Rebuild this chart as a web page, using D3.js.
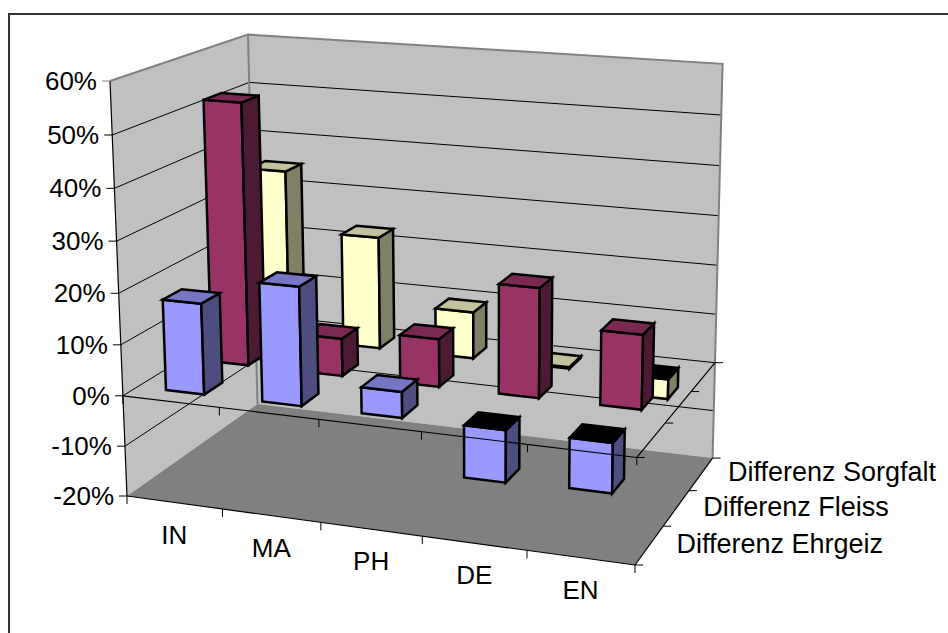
<!DOCTYPE html>
<html>
<head>
<meta charset="utf-8">
<script src="https://cdn.jsdelivr.net/npm/d3@7"></script>
<style>
  html, body { margin: 0; padding: 0; background: #fff; overflow: hidden; }
  text { font-family: "Liberation Sans", Arial, sans-serif; font-size: 26px; fill: #000; }
  text.series { font-size: 27px; }
</style>
</head>
<body>
<div id="chart"></div>
<script>
// Chart data
var categories = ["IN", "MA", "PH", "DE", "EN"];
var seriesNames = ["Differenz Ehrgeiz", "Differenz Fleiss", "Differenz Sorgfalt"];
var ehrgeiz = [0.178, 0.23, 0.05, -0.10, -0.095];
var fleiss = [0.525, 0.075, 0.095, 0.215, 0.145];
var sorgfalt = [0.35, 0.23, 0.095, 0.003, -0.04];
var valueTicks = [-0.2, -0.1, 0, 0.1, 0.2, 0.3, 0.4, 0.5, 0.6];
var seriesValues = [ehrgeiz, fleiss, sorgfalt];

var svgWidth = 948;
var svgHeight = 633;

var svg = d3.select("#chart").append("svg")
  .attr("width", svgWidth)
  .attr("height", svgHeight)
  .style("display", "block");

// Scales into the unit box: u along categories, v up, w into the screen
var uScale = d3.scaleBand().domain(categories).range([0, 1]).paddingInner(0.6).paddingOuter(0.3);
var vScale = d3.scaleLinear().domain([-0.2, 0.6]).range([0, 1]);
var wScale = d3.scaleBand().domain(seriesNames).range([0, 1]).paddingInner(0.6).paddingOuter(0.3);

// Perspective camera, set from the box corners
var origin = [127, 496];
var cornerU = [635, 565];
var cornerV = [110, 81];
var cornerW = [257.5, 404];
var persp = { u: -0.0744, v: -0.045, w: 0.129 };

function project(u, v, w) {
  var d = 1 + persp.u * u + persp.v * v + persp.w * w;
  return [0, 1].map(function(i) {
    return (origin[i]
      + (cornerU[i] * (1 + persp.u) - origin[i]) * u
      + (cornerV[i] * (1 + persp.v) - origin[i]) * v
      + (cornerW[i] * (1 + persp.w) - origin[i]) * w) / d;
  });
}

function poly(points, fill, stroke, strokeWidth) {
  return svg.append("polygon")
    .attr("points", points.map(function(p) { return p.join(","); }).join(" "))
    .attr("fill", fill)
    .attr("stroke", stroke || "none")
    .attr("stroke-width", strokeWidth || 0)
    .attr("stroke-linejoin", "miter");
}

function line(a, b, color, width) {
  return svg.append("line")
    .attr("x1", a[0]).attr("y1", a[1])
    .attr("x2", b[0]).attr("y2", b[1])
    .attr("stroke", color)
    .attr("stroke-width", width);
}

// Chart border: top and left only, the rest runs off the picture
svg.append("path")
  .attr("d", "M9,633V14H948")
  .attr("fill", "none")
  .attr("stroke", "#333")
  .attr("stroke-width", 2);

// Walls and floor
poly([project(0, 0, 0), project(0, 1, 0), project(0, 1, 1), project(0, 0, 1)], "#c0c0c0");
poly([project(0, 0, 1), project(0, 1, 1), project(1, 1, 1), project(1, 0, 1)], "#c0c0c0");
poly([project(0, 0, 0), project(1, 0, 0), project(1, 0, 1), project(0, 0, 1)], "#808080");

// Gridlines
valueTicks.forEach(function(t) {
  var v = vScale(t);
  if (t > -0.2 && t < 0.6) {
    line(project(0, v, 0), project(0, v, 1), "#000", 1);
    line(project(0, v, 1), project(1, v, 1), "#000", 1);
  }
});

// Wall edges
var edge = d3.line();
svg.append("path")
  .attr("d", edge([project(0, 1, 0), project(0, 1, 1), project(1, 1, 1), project(1, 0, 1)]))
  .attr("fill", "none").attr("stroke", "#808080").attr("stroke-width", 2);
line(project(0, 1, 1), project(0, 0, 1), "#808080", 2);

// Bars, back series first and left to right
var barStyles = [
  { front: "#9999ff", top: "#7676c4", side: "#4d4d80" },
  { front: "#993366", top: "#7a2952", side: "#4d1a33" },
  { front: "#ffffcc", top: "#c2c29c", side: "#808066" }
];

d3.range(seriesNames.length - 1, -1, -1).forEach(function(s) {
  var w0 = wScale(seriesNames[s]);
  var w1 = w0 + wScale.bandwidth();
  categories.forEach(function(c, i) {
    var value = seriesValues[s][i];
    var u0 = uScale(c);
    var u1 = u0 + uScale.bandwidth();
    var vTop = vScale(Math.max(value, 0));
    var vBot = vScale(Math.min(value, 0));
    var style = barStyles[s];
    poly([project(u0, vBot, w0), project(u1, vBot, w0), project(u1, vTop, w0), project(u0, vTop, w0)], style.front, "#000", 2.5);
    poly([project(u1, vBot, w0), project(u1, vBot, w1), project(u1, vTop, w1), project(u1, vTop, w0)], style.side, "#000", 2.5);
    poly([project(u0, vTop, w0), project(u1, vTop, w0), project(u1, vTop, w1), project(u0, vTop, w1)], value < 0 ? "#000" : style.top, "#000", 2.5);
  });
});

// Axes
var zero = vScale(0);
var tickLen = 8;
var uTicks = d3.range(0, categories.length + 1).map(function(i) { return i / categories.length; });
var wTicks = d3.range(0, seriesNames.length + 1).map(function(i) { return i / seriesNames.length; });

line(project(0, 1, 0), project(0, 0, 0), "#000", 1.2);
line(project(0, 0, 0), project(1, 0, 0), "#000", 1.2);
line(project(1, 0, 0), project(1, 0, 1), "#000", 1.2);
line(project(0, zero, 0), project(1, zero, 0), "#000", 1.2);
line(project(1, zero, 0), project(1, zero, 1), "#000", 1.2);

uTicks.forEach(function(u) {
  [0, zero].forEach(function(v) {
    var p = project(u, v, 0);
    line(p, [p[0], p[1] + tickLen], "#000", 1);
  });
});
wTicks.forEach(function(w) {
  [0, zero].forEach(function(v) {
    var p = project(1, v, w);
    line(p, [p[0] + tickLen, p[1]], "#000", 1);
  });
});

// Labels
var valueFormat = d3.format(".0%");
valueTicks.forEach(function(t) {
  var p = project(0, vScale(t), 0);
  line([p[0] - tickLen, p[1]], p, t === 0.6 ? "#808080" : "#000", 1);
  svg.append("text")
    .attr("x", p[0] - 13)
    .attr("y", p[1])
    .attr("dy", "0.35em")
    .attr("text-anchor", "end")
    .text(valueFormat(t).replace("\u2212", "-"));
});

categories.forEach(function(c) {
  var u = uScale(c) + uScale.bandwidth() / 2;
  var p = project(u, 0, 0);
  svg.append("text")
    .attr("x", p[0])
    .attr("y", p[1] + 32)
    .attr("dy", "0.35em")
    .attr("text-anchor", "middle")
    .text(c);
});

seriesNames.forEach(function(name) {
  var w = wScale(name) + wScale.bandwidth() / 2;
  var p = project(1, 0, w);
  svg.append("text")
    .attr("class", "series")
    .attr("x", p[0] + 27)
    .attr("y", p[1] - 2)
    .attr("dy", "0.35em")
    .text(name);
});
</script>
</body>
</html>
